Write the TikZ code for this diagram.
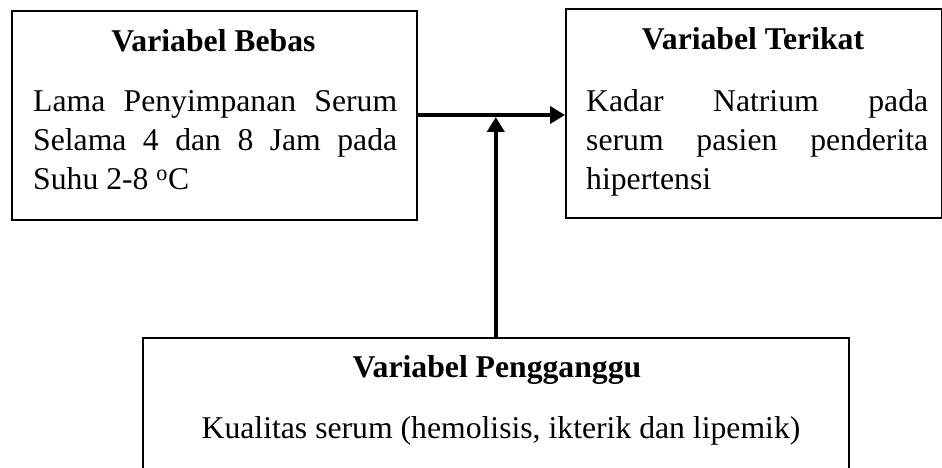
\documentclass[tikz,border=0pt]{standalone}
\usepackage{fontspec}
\setmainfont{Liberation Serif}
\usetikzlibrary{arrows.meta,calc}
\tikzset{
  box/.style={draw=black, line width=1.6pt, rectangle, inner sep=0pt},
  ttl/.style={font=\fontsize{31.7}{39}\selectfont\bfseries, inner sep=0pt, anchor=base},
  bodytxt/.style={font=\fontsize{31.7}{39}\selectfont, inner sep=0pt, anchor=base west, align=justify},
  conn/.style={line width=4pt, -{Triangle[length=15pt,width=17pt]}}
}
\begin{document}
\begin{tikzpicture}[x=1pt,y=-1pt]
\useasboundingbox (0,0) rectangle (942,468);
\clip (0,0) rectangle (942,468);
\fill[white] (0,0) rectangle (942,468);
% boxes
\node[box, minimum width=405pt, minimum height=209pt, anchor=north west] (bebas) at (11,10) {};
\node[box, minimum width=376pt, minimum height=209pt, anchor=north west] (terikat) at (565,8) {};
\node[box, minimum width=706pt, minimum height=180pt, anchor=north west] (pengganggu) at (142,337) {};
% texts
\node[ttl] (t1) at (213.5,52) {Variabel Bebas};
\node[bodytxt, text width=364pt] (x1) at (33,112) {Lama Penyimpanan Serum\linebreak Selama 4 dan 8 Jam pada\linebreak Suhu 2-8 \textsuperscript{o}C};
\node[ttl] (t2) at (753,50) {Variabel Terikat};
\node[bodytxt, text width=342pt] (x2) at (586,112) {Kadar Natrium pada\linebreak serum pasien penderita\linebreak hipertensi};
\node[ttl] (t3) at (497,377) {Variabel Pengganggu};
\node[font=\fontsize{31.7}{39}\selectfont, inner sep=0pt, anchor=base] (x3) at (501,438) {Kualitas serum (hemolisis, ikterik dan lipemik)};
% connectors
\draw[conn] (bebas.east |- 0,115) coordinate (hs) -- (hs -| terikat.west);
\draw[conn, shorten >=2pt] (pengganggu.north) -- (pengganggu.north |- hs);
\end{tikzpicture}
\end{document}
